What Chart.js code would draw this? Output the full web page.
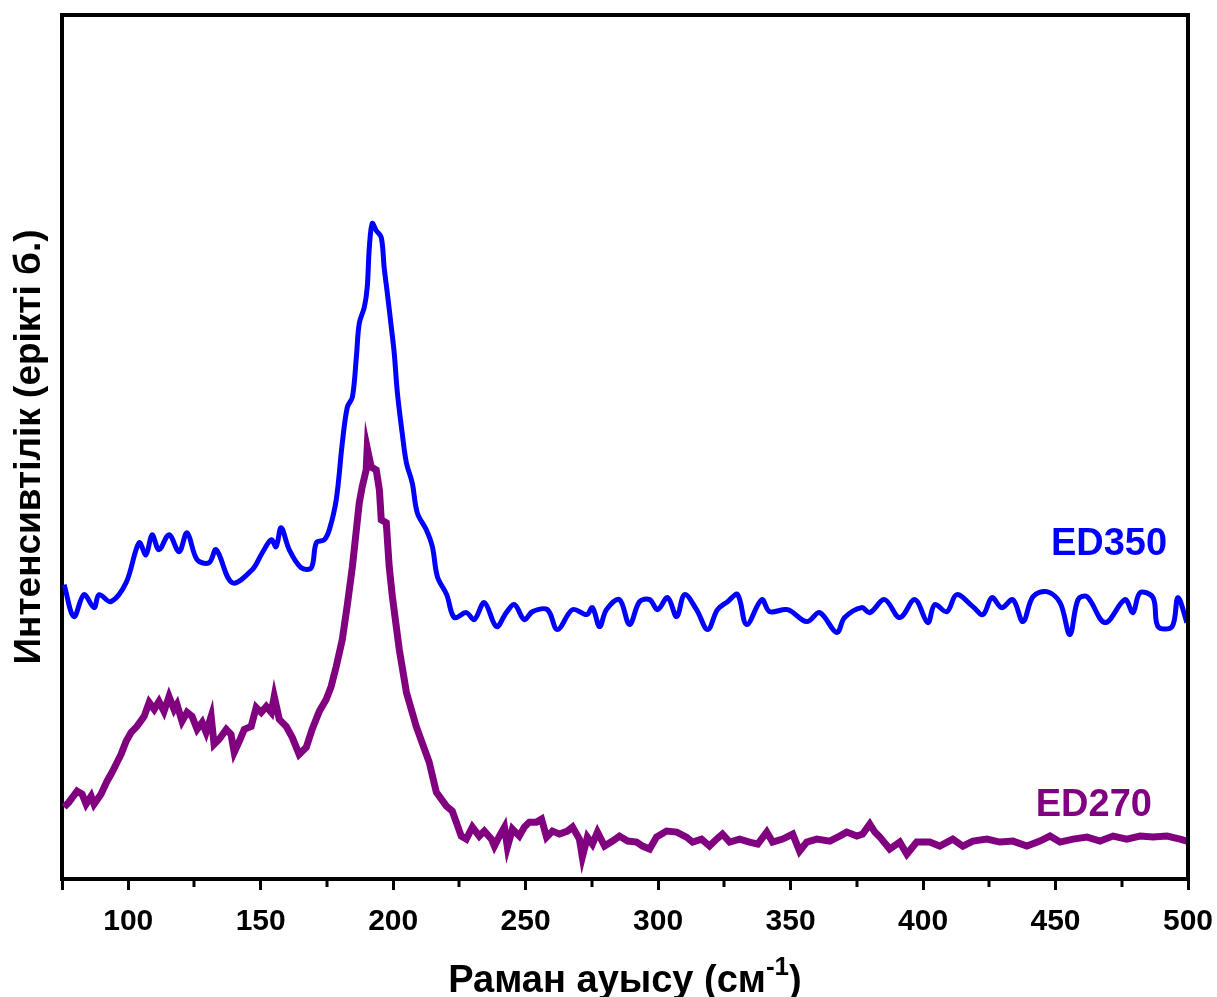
<!DOCTYPE html>
<html lang="kk">
<head>
  <meta charset="UTF-8" />
  <title>Раман спектрлері</title>
  <script src="https://cdn.jsdelivr.net/npm/chart.js"></script>
  <style>
    * { box-sizing: border-box; }
    body { margin: 0; padding: 0; background: #fff; }
    #wrap { width: 1217px; height: 997px; position: relative; }
  </style>
</head>
<body>
  <div id="wrap"><canvas id="chart"></canvas></div>

  <script>
    // ED350 (blue)
    const shift350 = [75.8, 79.5, 83.3, 87.1, 89.0, 93.5, 99.2, 104.1, 106.7, 109.0, 111.6, 115.4, 119.2, 122.2,
      126.0, 130.5, 133.2, 139.2, 146.8, 150.6, 154.0, 155.8, 157.7, 160.8, 165.3, 169.1, 171.0, 174.0, 175.9,
      178.5, 180.8, 182.7, 184.6, 186.1, 187.2, 189.1, 190.2, 191.0, 192.1, 193.6, 195.5, 196.6, 197.8, 199.3,
      200.4, 201.6, 203.4, 205.0, 207.2, 209.1, 212.5, 214.8, 216.7, 220.2, 223.1, 227.6, 230.6, 234.4, 239.0,
      242.7, 245.8, 249.5, 252.6, 258.2, 262.0, 267.7, 273.0, 275.2, 277.9, 280.5, 285.4, 289.2, 293.0, 296.8,
      299.8, 303.6, 307.0, 310.0, 314.5, 318.7, 322.4, 326.2, 330.0, 333.4, 339.1, 342.1, 348.9, 356.1, 361.0,
      367.4, 370.4, 376.8, 379.9, 385.5, 391.2, 396.9, 401.8, 404.4, 409.0, 412.7, 418.8, 422.6, 426.0, 429.7,
      433.9, 437.7, 441.5, 446.7, 451.7, 455.4, 458.5, 461.9, 468.7, 476.2, 479.2, 481.9, 486.8, 488.7, 494.0,
      496.2, 499.6];
    const intensity350 = [295, 263, 285, 272, 285, 278, 297, 337, 325, 345, 330, 345, 328, 347,
      320, 317, 330, 297, 310, 327, 340, 333, 352, 330, 312, 312, 337, 340, 350,
      380, 437, 473, 483, 523, 557, 573, 593, 633, 657, 650, 643, 613, 587, 553,
      527, 487, 447, 417, 397, 367, 350, 333, 303, 285, 262, 267, 260, 277, 253,
      267, 275, 260, 268, 270, 250, 270, 265, 272, 253, 270, 280, 255, 278, 280,
      270, 282, 263, 285, 270, 250, 270, 278, 285, 255, 280, 268, 270, 258, 267,
      247, 262, 272, 267, 280, 262, 280, 257, 275, 268, 285, 273, 265, 282, 272,
      280, 258, 283, 288, 277, 245, 280, 283, 257, 280, 267, 287, 282, 253, 253,
      282, 257];

    // ED270 (purple)
    const shift270 = [75.8, 77.6, 80.7, 82.6, 84.1, 86.0, 87.1, 89.7, 92.0, 93.9, 95.8, 97.3, 99.2, 101.1,
      103.3, 106.0, 107.9, 109.8, 111.6, 113.5, 115.4, 117.3, 118.4, 120.3, 122.2, 124.1, 126.0, 127.9, 129.4,
      131.3, 132.4, 134.3, 137.0, 138.8, 140.0, 141.9, 143.8, 146.4, 148.3, 150.2, 152.1, 154.0, 155.1, 157.0,
      159.6, 161.9, 164.5, 167.2, 169.4, 172.1, 174.7, 176.6, 178.5, 180.8, 182.7, 184.6, 186.1, 187.2, 188.3,
      189.8, 190.2, 191.7, 193.6, 194.8, 195.5, 197.4, 198.5, 199.7, 202.3, 205.0, 208.7, 213.6, 216.3, 220.1,
      222.3, 223.8, 225.7, 227.6, 229.9, 232.5, 234.4, 237.1, 238.2, 240.1, 242.0, 243.1, 245.0, 247.6, 249.5,
      251.4, 254.1, 256.0, 257.9, 260.1, 262.8, 265.8, 267.7, 270.3, 271.4, 273.3, 275.2, 277.1, 279.8, 282.8,
      285.4, 288.5, 291.9, 294.1, 296.8, 299.4, 303.2, 307.0, 310.7, 313.0, 316.4, 319.4, 322.1, 324.3, 327.0,
      330.8, 334.5, 337.6, 341.0, 343.2, 347.0, 350.8, 353.4, 356.1, 359.9, 364.8, 368.5, 371.2, 375.0, 377.2,
      379.9, 381.8, 383.7, 387.4, 391.2, 393.9, 397.6, 402.5, 406.3, 411.2, 415.0, 418.8, 424.1, 429.0, 433.9,
      439.2, 444.1, 447.9, 451.7, 456.6, 461.9, 466.8, 471.7, 476.9, 481.9, 486.8, 492.1, 497.0, 499.6];
    const intensity270 = [72, 77, 88, 85, 75, 83, 75, 85, 98, 107, 117, 125, 138, 147,
      153, 163, 177, 170, 178, 168, 183, 170, 175, 158, 167, 163, 150, 157, 147,
      163, 135, 140, 150, 145, 127, 138, 150, 153, 172, 167, 173, 167, 183, 160,
      153, 142, 125, 132, 150, 168, 180, 193, 213, 240, 275, 313, 350, 377, 393,
      410, 432, 413, 410, 390, 360, 357, 313, 283, 230, 187, 153, 117, 87, 73,
      68, 57, 43, 40, 52, 43, 48, 40, 33, 43, 52, 32, 50, 43, 52,
      57, 57, 60, 42, 48, 45, 48, 52, 40, 22, 42, 35, 47, 33, 38,
      43, 38, 37, 33, 30, 42, 48, 47, 42, 37, 40, 33, 40, 45, 37,
      40, 37, 35, 47, 37, 40, 45, 28, 37, 40, 38, 43, 47, 43, 45,
      55, 47, 42, 30, 37, 25, 37, 37, 33, 40, 33, 38, 40, 37, 38,
      33, 38, 43, 37, 40, 42, 38, 43, 40, 43, 42, 43, 40, 38];

    const seriesNames = ['ED350', 'ED270'];
    const seriesColors = ['#0000ff', '#800080'];
    const minorTicks = [125, 175, 225, 275, 325, 375, 425, 475];

    const FONT = 'Arial, "Liberation Sans", sans-serif';

    function toPoints(xs, ys) {
      return xs.map((x, i) => ({ x: x, y: ys[i] }));
    }

    const decor = {
      id: 'decor',
      afterDraw(chart) {
        const { ctx, chartArea: a, scales } = chart;
        const xs = scales.x, ys = scales.y;
        ctx.save();

        // top and right frame
        ctx.strokeStyle = '#000';
        ctx.lineWidth = 4;
        ctx.beginPath();
        ctx.moveTo(a.left - 2, a.top);
        ctx.lineTo(a.right, a.top);
        ctx.lineTo(a.right, a.bottom + 2);
        ctx.stroke();

        // minor ticks
        ctx.lineWidth = 3;
        minorTicks.forEach(v => {
          const px = Math.round(xs.getPixelForValue(v));
          ctx.beginPath();
          ctx.moveTo(px, a.bottom);
          ctx.lineTo(px, a.bottom + 8);
          ctx.stroke();
        });

        // series labels
        ctx.font = 'bold 38px ' + FONT;
        ctx.textAlign = 'right';
        ctx.textBaseline = 'middle';
        ctx.fillStyle = seriesColors[0];
        ctx.fillText(seriesNames[0], xs.getPixelForValue(492.1), ys.getPixelForValue(335));
        ctx.fillStyle = seriesColors[1];
        ctx.fillText(seriesNames[1], xs.getPixelForValue(486.4), ys.getPixelForValue(74));

        // y title
        ctx.fillStyle = '#000';
        ctx.font = 'bold 37px ' + FONT;
        ctx.textAlign = 'center';
        ctx.translate(30, (a.top + a.bottom) / 2);
        ctx.rotate(-Math.PI / 2);
        ctx.fillText('Интенсивтілік (ерікті б.)', 0, 0);
        ctx.setTransform(1, 0, 0, 1, 0, 0);

        // x title with superscript
        const main = 'Раман ауысу (см';
        const sup = '-1';
        const close = ')';
        ctx.font = 'bold 38px ' + FONT;
        const wMain = ctx.measureText(main).width;
        const wClose = ctx.measureText(close).width;
        ctx.font = 'bold 26px ' + FONT;
        const wSup = ctx.measureText(sup).width;
        let x0 = (a.left + a.right) / 2 - (wMain + wSup + wClose) / 2;
        const base = 992;
        ctx.textAlign = 'left';
        ctx.textBaseline = 'alphabetic';
        ctx.font = 'bold 38px ' + FONT;
        ctx.fillText(main, x0, base);
        ctx.font = 'bold 26px ' + FONT;
        ctx.fillText(sup, x0 + wMain, base - 17);
        ctx.font = 'bold 38px ' + FONT;
        ctx.fillText(close, x0 + wMain + wSup, base);

        ctx.restore();
      }
    };

    new Chart(document.getElementById('chart'), {
      type: 'line',
      data: {
        datasets: [
          {
            label: seriesNames[0],
            data: toPoints(shift350, intensity350),
            borderColor: seriesColors[0],
            borderWidth: 5,
            pointRadius: 0,
            tension: 0.35
          },
          {
            label: seriesNames[1],
            data: toPoints(shift270, intensity270),
            borderColor: seriesColors[1],
            borderWidth: 7,
            pointRadius: 0,
            tension: 0
          }
        ]
      },
      options: {
        responsive: true,
        maintainAspectRatio: false,
        animation: false,
        layout: { padding: { top: 15, right: 29, left: 0, bottom: 0 } },
        plugins: {
          legend: { display: false },
          tooltip: { enabled: false }
        },
        scales: {
          x: {
            type: 'linear',
            min: 75,
            max: 500,
            ticks: {
              stepSize: 50,
              color: '#000',
              font: { family: FONT, size: 30, weight: 'bold' },
              padding: 14,
              maxRotation: 0,
              callback: v => (v % 50 === 0 ? String(v) : '')
            },
            grid: {
              drawOnChartArea: false,
              drawTicks: true,
              tickLength: 11,
              tickWidth: 3,
              tickColor: '#000'
            },
            border: { display: true, color: '#000', width: 4 },
            afterFit: s => { s.height = 118; s.paddingLeft = 0; s.paddingRight = 0; }
          },
          y: {
            min: 0,
            max: 866,
            ticks: { display: false },
            grid: { display: false, drawTicks: false },
            border: { display: true, color: '#000', width: 4 },
            afterFit: s => { s.width = 62; }
          }
        }
      },
      plugins: [decor]
    });
  </script>
</body>
</html>
